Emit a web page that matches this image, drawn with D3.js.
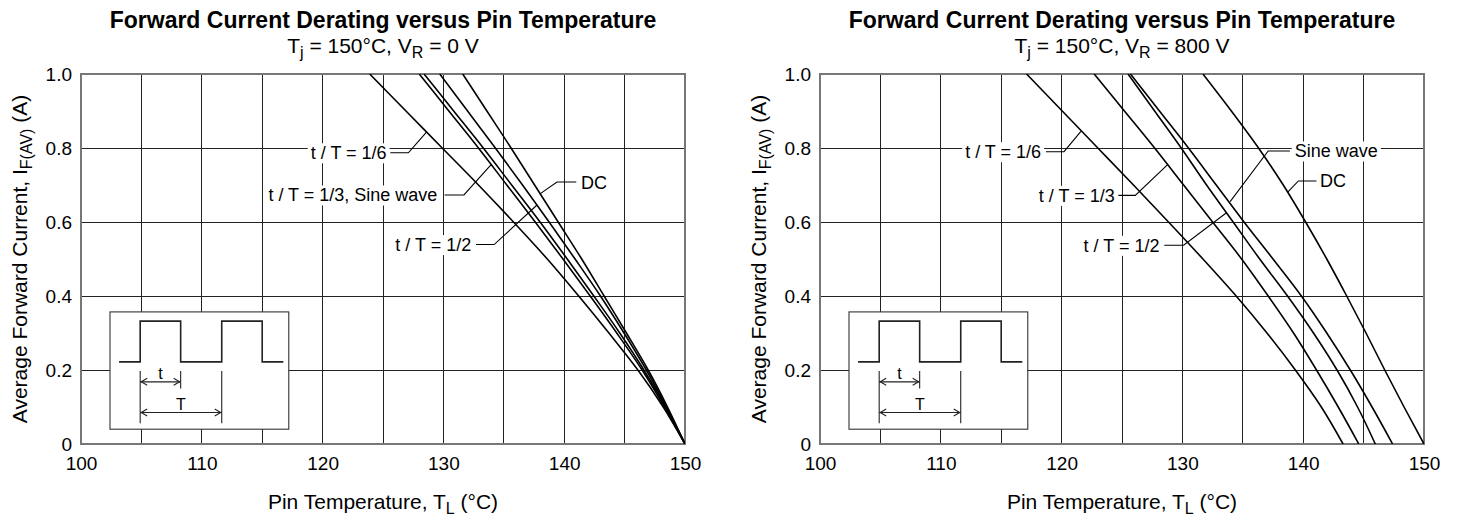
<!DOCTYPE html>
<html><head><meta charset="utf-8">
<script src="https://cdn.jsdelivr.net/npm/d3@7"></script>
<style>
body{margin:0;background:#fff}
svg{display:block}
text{font-family:"Liberation Sans",Arial,Helvetica,sans-serif;fill:#000}
</style></head>
<body><svg id="c" width="1458" height="516"></svg>
<script>
// ---------- data ----------
const xTicks = [100, 110, 120, 130, 140, 150];
const xGridVals = [100, 105, 110, 115, 120, 125, 130, 135, 140, 145, 150];
const yTicks = [0, 0.2, 0.4, 0.6, 0.8, 1.0];
const yTickLabels = ["0", "0.2", "0.4", "0.6", "0.8", "1.0"];

// Left chart: Tj = 150 °C, VR = 0 V   [pin temperature °C, IF(AV) A]
const left_t1_6 = [[123.9,1.0],[126.9,0.9],[129.9,0.8],[132.9,0.7],[135.8,0.6],[138.6,0.5],[141.2,0.4],[143.7,0.3],[146.1,0.2],[148.2,0.1],[150,0]];
const left_t1_3 = [[128.0,1.0],[130.45,0.9],[132.9,0.8],[135.25,0.7],[137.6,0.6],[139.9,0.5],[142.15,0.4],[144.35,0.3],[146.45,0.2],[148.3,0.1],[150,0]];
const left_sine = [[128.4,1.0],[130.85,0.9],[133.3,0.8],[135.65,0.7],[138.0,0.6],[140.25,0.5],[142.45,0.4],[144.6,0.3],[146.6,0.2],[148.4,0.1],[150,0]];
const left_t1_2 = [[129.7,1.0],[132.0,0.9],[134.3,0.8],[136.55,0.7],[138.75,0.6],[140.9,0.5],[143.0,0.4],[144.95,0.3],[146.8,0.2],[148.45,0.1],[150,0]];
const left_dc   = [[131.6,1.0],[133.6,0.9],[135.6,0.8],[137.55,0.7],[139.5,0.6],[141.45,0.5],[143.3,0.4],[145.15,0.3],[146.95,0.2],[148.55,0.1],[150,0]];

// Right chart: Tj = 150 °C, VR = 800 V
const right_t1_6 = [[117.1,1.0],[120.05,0.9],[123.0,0.8],[125.95,0.7],[128.85,0.6],[131.7,0.5],[134.45,0.4],[137.0,0.3],[139.35,0.2],[141.5,0.1],[143.3,0]];
const right_t1_3 = [[122.7,1.0],[125.2,0.9],[127.7,0.8],[130.1,0.7],[132.5,0.6],[134.9,0.5],[137.1,0.4],[139.2,0.3],[141.1,0.2],[142.9,0.1],[144.6,0]];
const right_t1_2 = [[125.5,1.0],[127.7,0.9],[129.9,0.8],[132.0,0.7],[134.2,0.6],[136.4,0.5],[138.7,0.4],[140.85,0.3],[142.8,0.2],[144.5,0.1],[145.97,0]];
const right_sine = [[125.7,1.0],[128.1,0.9],[130.5,0.8],[132.8,0.7],[135.1,0.6],[137.5,0.5],[139.85,0.4],[141.95,0.3],[143.9,0.2],[145.7,0.1],[147.4,0]];
const right_dc   = [[131.7,1.0],[134.05,0.9],[136.3,0.8],[138.35,0.7],[140.2,0.6],[141.95,0.5],[143.6,0.4],[145.2,0.3],[146.75,0.2],[148.35,0.1],[150,0]];

// annotations: label text, text anchor point (data units), leader polyline (data units)
const leftLabels = [
  {text:"t / T = 1/6", at:[125.3,0.787], anchor:"end", leader:[[125.6,0.787],[127.1,0.787],[128.6,0.843]]},
  {text:"t / T = 1/3, Sine wave", at:[129.5,0.673], anchor:"end", leader:[[130.1,0.673],[131.7,0.673],[133.95,0.755]]},
  {text:"t / T = 1/2", at:[132.3,0.539], anchor:"end", leader:[[132.7,0.539],[134.2,0.539],[137.75,0.646]]},
  {text:"DC", at:[141.4,0.708], anchor:"start", leader:[[141.0,0.708],[139.4,0.708],[138.0,0.676]]}
];
const rightLabels = [
  {text:"t / T = 1/6", at:[118.3,0.79], anchor:"end", leader:[[118.7,0.79],[120.2,0.79],[121.6,0.845]]},
  {text:"t / T = 1/3", at:[124.4,0.672], anchor:"end", leader:[[124.7,0.672],[126.1,0.672],[128.8,0.756]]},
  {text:"t / T = 1/2", at:[128.1,0.537], anchor:"end", leader:[[128.5,0.537],[130.1,0.537],[133.65,0.625]]},
  {text:"Sine wave", at:[139.3,0.792], anchor:"start", leader:[[138.9,0.792],[137.1,0.792],[133.95,0.655]]},
  {text:"DC", at:[141.4,0.711], anchor:"start", leader:[[141.1,0.711],[139.6,0.711],[138.7,0.68]]}
];

// inset waveform (data units of the plot)
const insetBox = [[102.4,0.357],[117.2,0.04]];
const insetWave = [[103.15,0.222],[104.9,0.222],[104.9,0.332],[108.25,0.332],[108.25,0.222],[111.65,0.222],[111.65,0.332],[115.0,0.332],[115.0,0.222],[116.75,0.222]];

const panels = [
  {x0:81, x1:685, vr:"0 V", series:[left_t1_6,left_t1_3,left_sine,left_t1_2,left_dc], labels:leftLabels, ytitleX:27},
  {x0:820, x1:1424, vr:"800 V", series:[right_t1_6,right_t1_3,right_t1_2,right_sine,right_dc], labels:rightLabels, ytitleX:766}
];
const plotTop = 74, plotBottom = 444;

const svg = d3.select("#c");

panels.forEach(p => {
  const x = d3.scaleLinear().domain([100,150]).range([p.x0,p.x1]);
  const y = d3.scaleLinear().domain([0,1]).range([plotBottom,plotTop]);
  const g = svg.append("g");
  const cx = (p.x0+p.x1)/2;

  // title
  g.append("text").attr("x",cx).attr("y",28).attr("text-anchor","middle")
    .attr("font-size",23).attr("font-weight","bold")
    .text("Forward Current Derating versus Pin Temperature");
  const st = g.append("text").attr("x",cx).attr("y",53).attr("text-anchor","middle").attr("font-size",21);
  st.append("tspan").text("T");
  st.append("tspan").attr("dy",5).attr("font-size",16).text("j");
  st.append("tspan").attr("dy",-5).text(" = 150°C, V");
  st.append("tspan").attr("dy",5).attr("font-size",16).text("R");
  st.append("tspan").attr("dy",-5).text(" = " + p.vr);

  // grid
  const grid = g.append("g").attr("stroke","#222").attr("stroke-width",1).attr("shape-rendering","crispEdges");
  xGridVals.forEach(v => grid.append("line").attr("x1",x(v)).attr("x2",x(v)).attr("y1",plotTop).attr("y2",plotBottom));
  yTicks.forEach(v => grid.append("line").attr("x1",p.x0).attr("x2",p.x1).attr("y1",y(v)).attr("y2",y(v)));
  g.append("rect").attr("x",p.x0).attr("y",plotTop).attr("width",p.x1-p.x0).attr("height",plotBottom-plotTop)
    .attr("fill","none").attr("stroke","#777").attr("stroke-width",1.2).attr("shape-rendering","crispEdges");

  // axes (tick labels via d3 axis)
  const xAxis = d3.axisBottom(x).tickValues(xTicks).tickSize(0).tickPadding(13).tickFormat(d3.format("d"));
  const ax = g.append("g").attr("transform",`translate(0,${plotBottom})`).call(xAxis);
  ax.select(".domain").remove();
  ax.selectAll("text").attr("font-size",19).attr("fill","#000").attr("font-family","Liberation Sans, Arial, sans-serif");
  const yAxis = d3.axisLeft(y).tickValues(yTicks).tickSize(0).tickPadding(9).tickFormat((d,i)=>yTickLabels[i]);
  const ay = g.append("g").attr("transform",`translate(${p.x0},0)`).call(yAxis);
  ay.select(".domain").remove();
  ay.selectAll("text").attr("font-size",19).attr("fill","#000").attr("font-family","Liberation Sans, Arial, sans-serif");

  // axis titles
  const xt = g.append("text").attr("x",cx).attr("y",509).attr("text-anchor","middle").attr("font-size",21);
  xt.append("tspan").text("Pin Temperature, T");
  xt.append("tspan").attr("dy",5).attr("font-size",16).text("L");
  xt.append("tspan").attr("dy",-5).text(" (°C)");
  const yt = g.append("text").attr("transform",`translate(${p.ytitleX},${(plotTop+plotBottom)/2}) rotate(-90)`)
    .attr("text-anchor","middle").attr("font-size",21);
  yt.append("tspan").text("Average Forward Current, I");
  yt.append("tspan").attr("dy",5).attr("font-size",16).text("F(AV)");
  yt.append("tspan").attr("dy",-5).text(" (A)");

  // inset
  const ins = g.append("g");
  ins.append("rect").attr("x",x(insetBox[0][0])).attr("y",y(insetBox[0][1]))
    .attr("width",x(insetBox[1][0])-x(insetBox[0][0])).attr("height",y(insetBox[1][1])-y(insetBox[0][1]))
    .attr("fill","#fff").attr("stroke","#333").attr("stroke-width",1.1);
  ins.append("path").attr("d",d3.line().x(d=>x(d[0])).y(d=>y(d[1]))(insetWave))
    .attr("fill","none").attr("stroke","#222").attr("stroke-width",1.6);
  const iv = [104.9,108.25,111.65];
  const dimTop = 0.197;
  [[iv[0],0.056],[iv[1],0.150],[iv[2],0.056]].forEach(([t,lo]) =>
    ins.append("line").attr("x1",x(t)).attr("x2",x(t)).attr("y1",y(dimTop)).attr("y2",y(lo)).attr("stroke","#222").attr("stroke-width",1.1));
  const arrow = (t0,t1,v) => {
    const X0=x(t0),X1=x(t1),Y=y(v);
    ins.append("line").attr("x1",X0).attr("x2",X1).attr("y1",Y).attr("y2",Y).attr("stroke","#222").attr("stroke-width",1.1);
    ins.append("path").attr("d",`M${X0+7},${Y-3.5}L${X0+1},${Y}L${X0+7},${Y+3.5}M${X1-7},${Y-3.5}L${X1-1},${Y}L${X1-7},${Y+3.5}`)
      .attr("fill","none").attr("stroke","#222").attr("stroke-width",1.1);
  };
  arrow(iv[0],iv[1],0.168);
  arrow(iv[0],iv[2],0.085);
  ins.append("text").attr("x",x((iv[0]+iv[1])/2)).attr("y",y(0.168)-3).attr("text-anchor","middle").attr("font-size",16).text("t");
  ins.append("text").attr("x",x((iv[0]+iv[2])/2)).attr("y",y(0.085)-3).attr("text-anchor","middle").attr("font-size",16).text("T");

  // curves
  const line = d3.line().x(d=>x(d[0])).y(d=>y(d[1])).curve(d3.curveMonotoneY);
  const clipId = "clip"+p.x0;
  svg.append("clipPath").attr("id",clipId).append("rect").attr("x",p.x0).attr("y",plotTop).attr("width",p.x1-p.x0).attr("height",plotBottom-plotTop);
  g.append("g").attr("clip-path",`url(#${clipId})`).selectAll("path").data(p.series).join("path")
    .attr("d",line).attr("fill","none").attr("stroke","#000").attr("stroke-width",1.6);

  // labels
  p.labels.forEach(l => {
    const t = g.append("text").attr("x",x(l.at[0])).attr("y",y(l.at[1])+6.5)
      .attr("text-anchor",l.anchor).attr("font-size",18).text(l.text);
    const bb = t.node().getBBox();
    g.insert("rect", () => t.node()).attr("x",bb.x-3).attr("y",bb.y).attr("width",bb.width+6).attr("height",bb.height).attr("fill","#fff");
    g.append("path").attr("d",d3.line().x(d=>x(d[0])).y(d=>y(d[1]))(l.leader))
      .attr("fill","none").attr("stroke","#000").attr("stroke-width",1.1);
  });
});
</script></body></html>
